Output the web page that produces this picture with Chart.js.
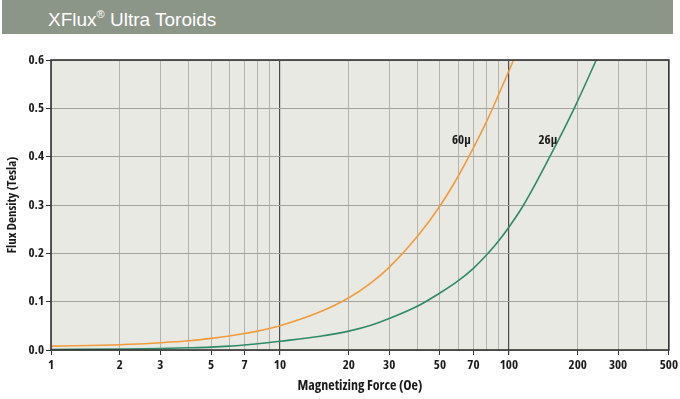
<!DOCTYPE html>
<html>
<head>
<meta charset="utf-8">
<script src="https://cdn.jsdelivr.net/npm/chart.js@4/dist/chart.umd.min.js"></script>
<style>
  html, body { margin: 0; padding: 0; background: #ffffff; }
  #wrap { position: relative; width: 680px; height: 399px; overflow: hidden; }
  #band { position: absolute; left: 2px; top: 0; width: 671px; height: 34px; background: #8c9688; }
  #title { position: absolute; left: 48px; top: 10px; font: 19px/1 'Liberation Sans', Arial, sans-serif; color: #ffffff; white-space: nowrap; }
  #title sup { font-size: 11px; position: relative; top: -1px; }
  canvas { position: absolute; left: 0; top: 0; }
</style>
</head>
<body>
<div id="wrap">
  <canvas id="c" width="680" height="399"></canvas>
  <div id="band"></div>
  <div id="title">XFlux<sup>®</sup> Ultra Toroids</div>
</div>
<script>
// ---- data ----
const h60 = [1, 2, 3, 4, 5, 6, 7, 8, 9, 10, 15, 20, 25, 30, 40, 50, 60, 70, 80, 90, 100, 104.8];
const b60 = [0.008, 0.011, 0.015, 0.019, 0.024, 0.029, 0.034, 0.039, 0.0445, 0.050, 0.079, 0.108, 0.139, 0.171, 0.236, 0.298, 0.359, 0.418, 0.473, 0.527, 0.577, 0.600];

const h26 = [1, 2, 3, 4, 5, 6, 7, 8, 9, 10, 15, 20, 25, 30, 40, 50, 60, 70, 80, 90, 100, 116, 151, 193, 241];
const b26 = [0.001, 0.002, 0.003, 0.0045, 0.006, 0.008, 0.0105, 0.013, 0.0155, 0.018, 0.0285, 0.039, 0.051, 0.065, 0.091, 0.118, 0.143, 0.169, 0.197, 0.225, 0.254, 0.300, 0.400, 0.500, 0.600];

const seriesNames = ['60\u03bc', '26\u03bc'];
const labelH = [62, 148];
const labelB = [0.433, 0.433];

const xGridValues = [1, 2, 3, 4, 5, 6, 7, 8, 9, 10, 20, 30, 40, 50, 60, 70, 80, 90, 100, 200, 300, 400, 500];
const xTickLabels = [1, 2, 3, 5, 7, 10, 20, 30, 50, 70, 100, 200, 300, 500];
const xMajor = [10, 100];
const yTicks = [0.0, 0.1, 0.2, 0.3, 0.4, 0.5, 0.6];

const FAMILY = "'Open Sans', 'DejaVu Sans', sans-serif";
const WEIGHT = 'bold condensed';

const toPts = (xs, ys) => xs.map((x, i) => ({ x: x, y: ys[i] }));

const frame = {
  id: 'frame',
  beforeDraw(chart) {
    const a = chart.chartArea, ctx = chart.ctx;
    ctx.save();
    ctx.fillStyle = '#e9e9e4';
    ctx.fillRect(a.left, a.top, a.right - a.left, a.bottom - a.top);
    ctx.restore();
  },
  afterDatasetsDraw(chart) {
    const a = chart.chartArea, ctx = chart.ctx;
    ctx.save();
    ctx.strokeStyle = '#333333';
    ctx.lineWidth = 1.6;
    ctx.strokeRect(a.left, a.top, a.right - a.left, a.bottom - a.top);
    ctx.font = WEIGHT + ' 13px ' + FAMILY;
    ctx.fillStyle = '#1a1a1a';
    ctx.textAlign = 'center';
    ctx.textBaseline = 'middle';
    const xs = chart.scales.x, ys = chart.scales.y;
    seriesNames.forEach((n, i) => {
      ctx.fillText(n, xs.getPixelForValue(labelH[i]), ys.getPixelForValue(labelB[i]));
    });
    ctx.restore();
  }
};

new Chart(document.getElementById('c'), {
  type: 'line',
  data: {
    datasets: [
      { label: seriesNames[0], data: toPts(h60, b60), borderColor: '#f29b3a', borderWidth: 1.6, pointRadius: 0, cubicInterpolationMode: 'monotone' },
      { label: seriesNames[1], data: toPts(h26, b26), borderColor: '#2f8a68', borderWidth: 1.6, pointRadius: 0, cubicInterpolationMode: 'monotone' }
    ]
  },
  options: {
    responsive: false,
    animation: false,
    layout: { padding: { top: 60, right: 8, left: 0, bottom: 0 } },
    plugins: { legend: { display: false }, tooltip: { enabled: false } },
    scales: {
      x: {
        type: 'logarithmic',
        min: 1, max: 500,
        afterBuildTicks(scale) { scale.ticks = xGridValues.map(v => ({ value: v })); },
        afterFit(scale) { scale.height = 49; },
        border: { display: false },
        grid: {
          color: ctx => xMajor.includes(ctx.tick && ctx.tick.value) ? '#4a4a4a' : '#b3b3ad',
          lineWidth: ctx => xMajor.includes(ctx.tick && ctx.tick.value) ? 1.2 : 1,
          tickColor: ctx => xTickLabels.includes(ctx.tick && ctx.tick.value) ? '#333333' : 'rgba(0,0,0,0)',
          tickLength: 5
        },
        ticks: {
          autoSkip: false, maxRotation: 0, padding: 2,
          color: '#1a1a1a',
          font: { family: FAMILY, size: 13, weight: WEIGHT },
          callback: v => xTickLabels.includes(v) ? String(v) : ''
        },
        title: {
          display: true, text: 'Magnetizing Force (Oe)', color: '#1a1a1a',
          font: { family: FAMILY, size: 14, weight: WEIGHT },
          padding: { top: 0, bottom: 5 }
        }
      },
      y: {
        min: 0, max: 0.6,
        afterBuildTicks(scale) { scale.ticks = yTicks.map(v => ({ value: v })); },
        afterFit(scale) { scale.width = 51; },
        border: { display: false },
        grid: { color: '#a3a39e', lineWidth: 1, tickColor: '#333333', tickLength: 5 },
        ticks: {
          padding: 2, color: '#1a1a1a',
          font: { family: FAMILY, size: 13, weight: WEIGHT },
          callback: v => Number(v).toFixed(1)
        },
        title: {
          display: true, text: 'Flux Density (Tesla)', color: '#1a1a1a',
          font: { family: FAMILY, size: 13, weight: WEIGHT },
          padding: { top: 4, bottom: 0 }
        }
      }
    }
  },
  plugins: [frame]
});
</script>
</body>
</html>
